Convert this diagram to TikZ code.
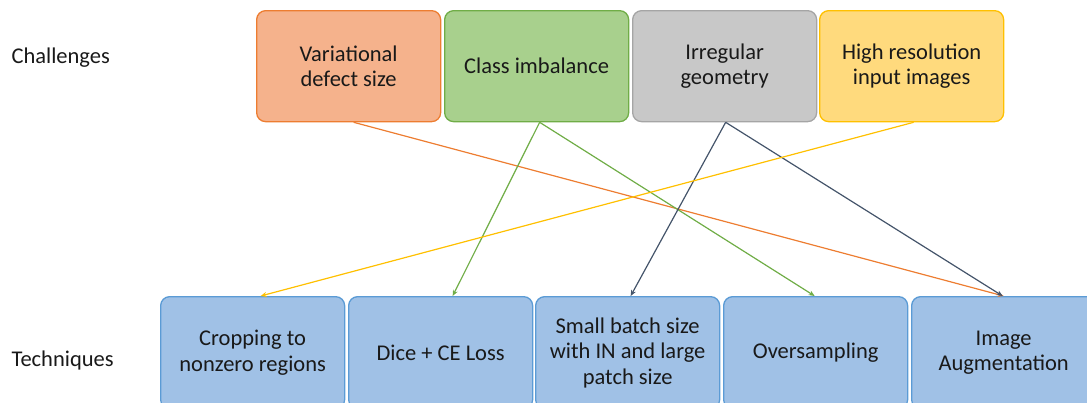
\documentclass[tikz,border=0pt]{standalone}
\usepackage{fontspec}
\setmainfont{Carlito}
\usetikzlibrary{arrows.meta}
\definecolor{orF}{RGB}{245,178,140}
\definecolor{orD}{RGB}{237,125,49}
\definecolor{grF}{RGB}{168,208,141}
\definecolor{grD}{RGB}{112,173,71}
\definecolor{gyF}{RGB}{200,200,200}
\definecolor{gyD}{RGB}{165,165,165}
\definecolor{ylF}{RGB}{255,218,125}
\definecolor{ylD}{RGB}{255,192,0}
\definecolor{blF}{RGB}{160,193,230}
\definecolor{blD}{RGB}{91,155,213}
\definecolor{slate}{RGB}{68,84,106}
\tikzset{
  x=1pt, y=-1pt,
  box/.style={rounded corners=9pt, line width=1.3pt, minimum width=184pt, minimum height=111pt,
    inner sep=0pt, align=center, font=\fontsize{22.5}{25.5}\selectfont, text=black!90},
  topbox/.style={box, anchor=north west},
  techbox/.style={box, anchor=north west, minimum height=112pt},
  lab/.style={font=\fontsize{22.5}{25}\selectfont, anchor=west, text=black!90},
  conn/.style={line width=1.2pt, -{Stealth[length=6pt,width=5pt]}},
}
\begin{document}
\begin{tikzpicture}
\useasboundingbox (0,0) rectangle (1087,402);
\clip (0,0) rectangle (1087,402);
\node[lab] (chal) at (8,58) {Challenges};
\node[lab] (tech) at (8,360) {Techniques};

\node[topbox, fill=orF, draw=orD] (var) at (256,10) {Variational\\defect size};
\node[topbox, fill=grF, draw=grD] (cls) at (444,10) {Class imbalance};
\node[topbox, fill=gyF, draw=gyD] (irr) at (632,10) {Irregular\\geometry};
\node[topbox, fill=ylF, draw=ylD] (hig) at (819,10) {High resolution\\input images};

\node[techbox, fill=blF, draw=blD] (crop) at (160,296) {Cropping to\\nonzero regions};
\node[techbox, fill=blF, draw=blD] (dice) at (348,296) {Dice + CE Loss};
\node[techbox, fill=blF, draw=blD] (small) at (535,296) {Small batch size\\with IN and large\\patch size};
\node[techbox, fill=blF, draw=blD] (over) at (723,296) {Oversampling};
\node[techbox, fill=blF, draw=blD] (aug) at (911,296) {Image\\Augmentation};

\draw[conn, orD] ([xshift=5pt]var.south) -- (aug.north);
\draw[conn, grD] ([xshift=3pt]cls.south) -- ([xshift=12pt]dice.north);
\draw[conn, grD] ([xshift=3pt]cls.south) -- ([xshift=-1pt]over.north);
\draw[conn, slate] ([xshift=1pt]irr.south) -- ([xshift=3pt]small.north);
\draw[conn, slate] ([xshift=1pt]irr.south) -- ([xshift=-1pt]aug.north);
\draw[conn, ylD] ([xshift=2pt]hig.south) -- ([xshift=8pt]crop.north);
\end{tikzpicture}
\end{document}
